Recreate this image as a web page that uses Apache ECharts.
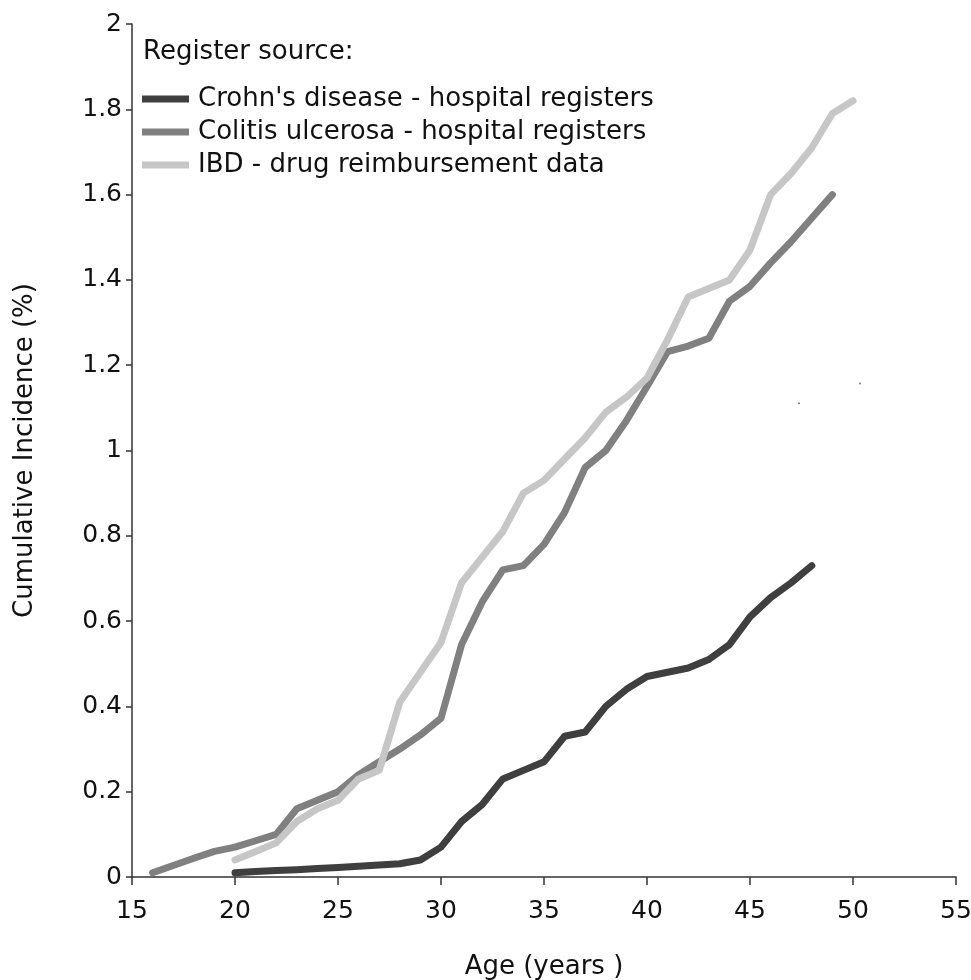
<!DOCTYPE html>
<html>
<head>
<meta charset="utf-8">
<script src="https://cdn.jsdelivr.net/npm/echarts@6/dist/echarts.min.js"></script>
<style>html,body{margin:0;padding:0;background:#fff;}#c{width:971px;height:980px;}</style>
</head>
<body>
<div id="c"></div>
<script>
var xTicks = [15, 20, 25, 30, 35, 40, 45, 50, 55];
var yTicks = [0, 0.2, 0.4, 0.6, 0.8, 1, 1.2, 1.4, 1.6, 1.8, 2];

var seriesNames = ["Crohn's disease - hospital registers", "Colitis ulcerosa - hospital registers", "IBD - drug reimbursement data"];

var crohnAges = [20,21,22,23,24,25,26,27,28,29,30,31,32,33,34,35,36,37,38,39,40,41,42,43,44,45,46,47,48];
var crohnValues = [0.01,0.013,0.015,0.017,0.02,0.022,0.025,0.028,0.031,0.04,0.07,0.13,0.17,0.23,0.25,0.27,0.33,0.34,0.40,0.44,0.47,0.48,0.49,0.51,0.545,0.61,0.655,0.69,0.73];

var colitisAges = [16,17,18,19,20,21,22,23,24,25,26,27,28,29,30,31,32,33,34,35,36,37,38,39,40,41,42,43,44,45,46,47,48,49];
var colitisValues = [0.01,0.027,0.044,0.06,0.07,0.085,0.10,0.16,0.18,0.20,0.24,0.27,0.30,0.333,0.372,0.545,0.645,0.72,0.73,0.78,0.855,0.96,1.0,1.07,1.15,1.232,1.245,1.263,1.35,1.385,1.44,1.49,1.545,1.60];

var ibdAges = [20,21,22,23,24,25,26,27,28,29,30,31,32,33,34,35,36,37,38,39,40,41,42,43,44,45,46,47,48,49,50];
var ibdValues = [0.04,0.06,0.08,0.13,0.16,0.18,0.23,0.25,0.41,0.48,0.55,0.69,0.75,0.81,0.90,0.93,0.98,1.03,1.09,1.125,1.17,1.26,1.36,1.38,1.40,1.47,1.60,1.65,1.71,1.79,1.82];

var specksX = [47.38, 50.34];
var specksY = [1.111, 1.157];

function pairs(xs, ys) { return xs.map(function (x, i) { return [x, ys[i]]; }); }

var FONT = 'DejaVu Sans';
var colors = ['#3f3f3f', '#808080', '#c6c6c6'];

var chart = echarts.init(document.getElementById('c'), null, {renderer: 'canvas'});

function lineSeries(name, data, color) {
  return {
    name: name, type: 'line', data: data, showSymbol: false, symbol: 'none',
    lineStyle: {color: color, width: 7, cap: 'round', join: 'round'},
    itemStyle: {color: color}, animation: false, z: 3
  };
}

chart.setOption({
  animation: false,
  backgroundColor: '#fff',
  title: {
    text: 'Register source:', left: 138, top: 34,
    textStyle: {fontFamily: FONT, fontSize: 26, fontWeight: 'normal', color: '#111', lineHeight: 26}
  },
  legend: {
    data: seriesNames, orient: 'vertical', left: 137, top: 81,
    icon: 'rect', itemWidth: 47, itemHeight: 7, itemGap: 7,
    textStyle: {fontFamily: FONT, fontSize: 26, color: '#111', lineHeight: 26, padding: [0, 0, 0, 4]},
    selectedMode: false
  },
  grid: {left: 132, right: 15, top: 24, bottom: 103, containLabel: false, outerBoundsMode: 'none'},
  xAxis: {
    type: 'value', min: xTicks[0], max: xTicks[xTicks.length - 1], interval: 5,
    name: 'Age (years )', nameLocation: 'middle', nameGap: 77,
    nameTextStyle: {fontFamily: FONT, fontSize: 26, color: '#111'},
    axisLine: {show: true, onZero: false, lineStyle: {color: '#333', width: 1.5}},
    axisTick: {show: true, length: 8, lineStyle: {color: '#333', width: 1.5}},
    axisLabel: {fontFamily: FONT, fontSize: 25, color: '#111', margin: 22},
    splitLine: {show: false}
  },
  yAxis: {
    type: 'value', min: yTicks[0], max: yTicks[yTicks.length - 1], interval: 0.2,
    name: 'Cumulative Incidence (%)', nameLocation: 'middle', nameGap: 94, nameRotate: 90,
    nameTextStyle: {fontFamily: FONT, fontSize: 26, color: '#111'},
    axisLine: {show: true, lineStyle: {color: '#333', width: 1.5}},
    axisTick: {show: true, length: 6, lineStyle: {color: '#333', width: 1.5}},
    axisLabel: {fontFamily: FONT, fontSize: 25, color: '#111', margin: 10},
    splitLine: {show: false}
  },
  series: [
    lineSeries(seriesNames[0], pairs(crohnAges, crohnValues), colors[0]),
    lineSeries(seriesNames[1], pairs(colitisAges, colitisValues), colors[1]),
    lineSeries(seriesNames[2], pairs(ibdAges, ibdValues), colors[2]),
    {
      name: 'specks', type: 'scatter', data: pairs(specksX, specksY), symbolSize: 2,
      itemStyle: {color: '#555'}, silent: true, z: 2
    }
  ]
});
</script>
</body>
</html>
